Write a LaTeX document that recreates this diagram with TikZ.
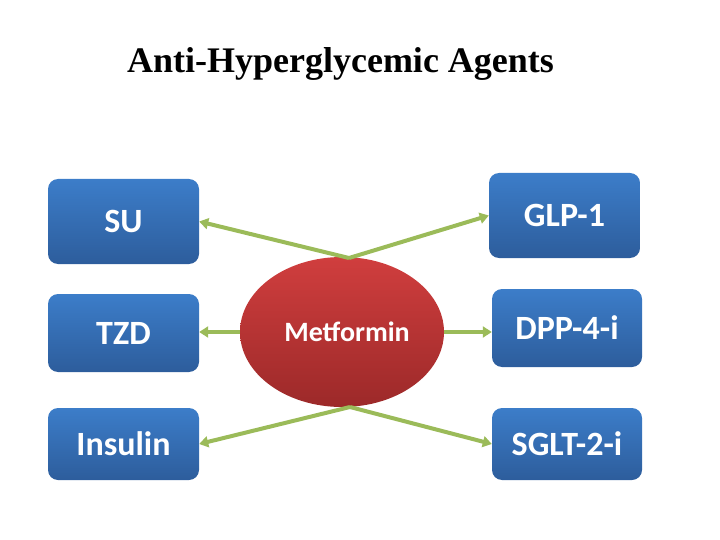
\documentclass[tikz,border=0pt]{standalone}
\usepackage{fontspec}
\setmainfont{Liberation Serif}
\newfontfamily\boxfont{Carlito}
\usetikzlibrary{arrows.meta,shapes.geometric}
\definecolor{boxtop}{HTML}{3C7DC9}
\definecolor{boxbot}{HTML}{2D5D9C}
\definecolor{redtop}{HTML}{D03E3E}
\definecolor{redbot}{HTML}{9C2929}
\definecolor{arrgreen}{HTML}{9BBB59}
\tikzset{
  agent/.style={rectangle, rounded corners=10pt, top color=boxtop, bottom color=boxbot,
    draw=none, inner sep=0pt, text=white, font=\boxfont\bfseries\fontsize{34}{40}\selectfont},
  hub/.style={ellipse, top color=redtop, bottom color=redbot, draw=none, inner sep=0pt,
    minimum width=204pt, minimum height=150pt, text=white,
    font=\boxfont\bfseries\fontsize{28}{32}\selectfont},
  link/.style={draw=arrgreen, line width=4pt, -{Triangle[length=9pt,width=11pt]}},
}
\begin{document}
\begin{tikzpicture}[x=1pt,y=-1pt]
\useasboundingbox (0,0) rectangle (720,540);
\node[anchor=base, font=\bfseries\fontsize{36}{40}\selectfont] (title) at (340.5,73) {Anti-Hyperglycemic Agents};
\node[hub] (met) at (342,332) {\hspace*{10pt}Metformin};
\node[agent, minimum width=151pt, minimum height=85pt] (su) at (123.5,221.5) {SU};
\node[agent, minimum width=151pt, minimum height=85pt] (glp) at (564.5,215.5) {GLP-1};
\node[agent, minimum width=151pt, minimum height=78pt] (tzd) at (123.5,333) {TZD};
\node[agent, minimum width=150pt, minimum height=78pt] (dpp) at (567,328) {DPP-4-i};
\node[agent, minimum width=151pt, minimum height=72pt] (ins) at (123.5,444) {Insulin};
\node[agent, minimum width=150pt, minimum height=72pt] (sglt) at (567,444) {SGLT-2-i};
\coordinate (apt) at (349,258);
\coordinate (apb) at (350,407);
\draw[link] (apt) -- (su.east);
\draw[link] (apt) -- (glp.west);
\draw[link] (apb) -- (ins.east);
\draw[link] (apb) -- (sglt.west);
\draw[link] (met.west) -- (met.west -| tzd.east);
\draw[link] (met.east) -- (met.east -| dpp.west);
\end{tikzpicture}
\end{document}
